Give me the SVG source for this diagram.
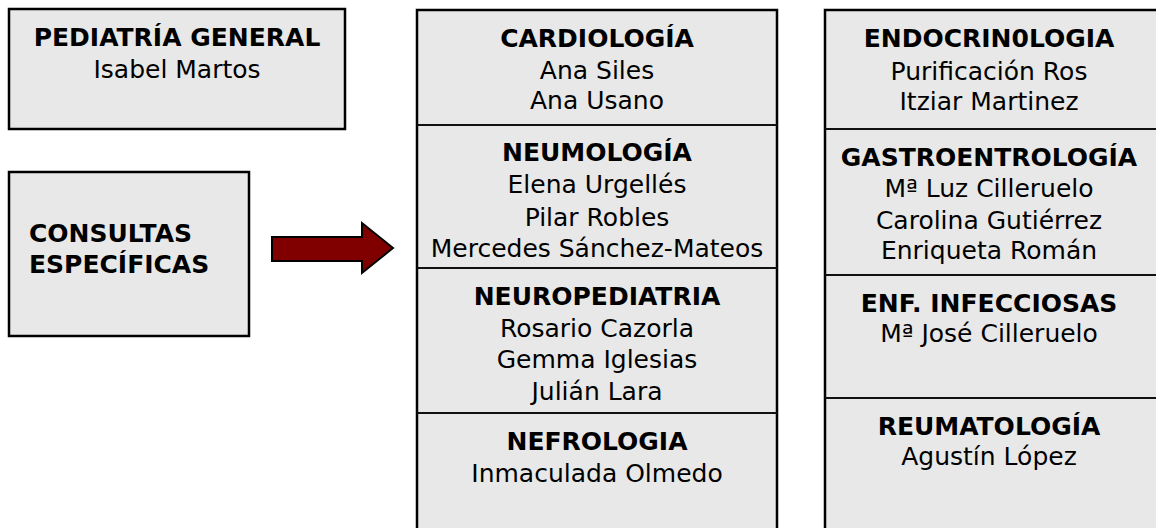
<svg xmlns="http://www.w3.org/2000/svg" width="1156" height="528" viewBox="0 0 1156 528">
<style>
.box{fill:#e8e8e8;stroke:#000;stroke-width:2.5}
.div{stroke:#111;stroke-width:2}
.h{font-family:"DejaVu Sans","Liberation Sans",sans-serif;font-size:25px;font-weight:bold;fill:#000;text-anchor:middle}
.n{font-family:"DejaVu Sans","Liberation Sans",sans-serif;font-size:25px;fill:#000;text-anchor:middle}
.l{text-anchor:start}
.arrow{fill:#800000;stroke:#000;stroke-width:2;stroke-linejoin:miter}
</style>
<rect width="1156" height="528" fill="#fff"/>
<g id="pediatria-general">
<rect class="box" x="9" y="9" width="336" height="120"/>
<text class="h" x="177" y="46">PEDIATRÍA GENERAL</text>
<text class="n" x="177" y="78">Isabel Martos</text>
</g>
<g id="consultas-especificas">
<rect class="box" x="9" y="172" width="240" height="164"/>
<text class="h l" x="29" y="242">CONSULTAS</text>
<text class="h l" x="29" y="273">ESPECÍFICAS</text>
</g>
<g id="connectors">
<polygon class="arrow" points="272,237 362,237 362,223 393,248 362,273 362,261 272,261"/>
</g>
<g id="columna-1">
<rect class="box" x="417" y="10" width="360" height="540"/>
<line class="div" x1="417" y1="125" x2="777" y2="125"/>
<line class="div" x1="417" y1="268" x2="777" y2="268"/>
<line class="div" x1="417" y1="413" x2="777" y2="413"/>
</g>
<g id="cardiologia">
<text class="h" x="597" y="47">CARDIOLOGÍA</text>
<text class="n" x="597" y="79">Ana Siles</text>
<text class="n" x="597" y="109">Ana Usano</text>
</g>
<g id="neumologia">
<text class="h" x="597" y="161">NEUMOLOGÍA</text>
<text class="n" x="597" y="193">Elena Urgellés</text>
<text class="n" x="597" y="226">Pilar Robles</text>
<text class="n" x="597" y="257">Mercedes Sánchez-Mateos</text>
</g>
<g id="neuropediatria">
<text class="h" x="597" y="305">NEUROPEDIATRIA</text>
<text class="n" x="597" y="337">Rosario Cazorla</text>
<text class="n" x="597" y="368">Gemma Iglesias</text>
<text class="n" x="597" y="400">Julián Lara</text>
</g>
<g id="nefrologia">
<text class="h" x="597" y="450">NEFROLOGIA</text>
<text class="n" x="597" y="482">Inmaculada Olmedo</text>
</g>
<g id="columna-2">
<rect class="box" x="825" y="10" width="345" height="540"/>
<line class="div" x1="825" y1="129" x2="1160" y2="129"/>
<line class="div" x1="825" y1="275" x2="1160" y2="275"/>
<line class="div" x1="825" y1="398" x2="1160" y2="398"/>
</g>
<g id="endocrinologia">
<text class="h" x="989" y="47">ENDOCRIN0LOGIA</text>
<text class="n" x="989" y="80">Purificación Ros</text>
<text class="n" x="989" y="110">Itziar Martinez</text>
</g>
<g id="gastroenterologia">
<text class="h" x="989" y="166">GASTROENTROLOGÍA</text>
<text class="n" x="989" y="197">Mª Luz Cilleruelo</text>
<text class="n" x="989" y="229">Carolina Gutiérrez</text>
<text class="n" x="989" y="259">Enriqueta Román</text>
</g>
<g id="infecciosas">
<text class="h" x="989" y="312">ENF. INFECCIOSAS</text>
<text class="n" x="989" y="342">Mª José Cilleruelo</text>
</g>
<g id="reumatologia">
<text class="h" x="989" y="435">REUMATOLOGÍA</text>
<text class="n" x="989" y="465">Agustín López</text>
</g>
</svg>
